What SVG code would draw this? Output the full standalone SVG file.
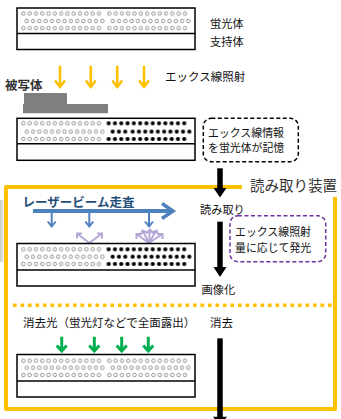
<svg xmlns="http://www.w3.org/2000/svg" width="341" height="419" viewBox="0 0 341 419">
  <defs>
    <style>
      .lbl { font-family: "Noto Sans CJK JP", "Noto Sans", sans-serif; font-size: 11.2px; fill: #111; }
      .box { font-size: 10.9px; }
      .plate { fill: #fff; stroke: #000; stroke-width: 1.5; }
      .div { stroke: #000; stroke-width: 1.5; }
      .ya { stroke: #FFC000; stroke-width: 2.5; fill: none; stroke-linecap: butt; }
      .ga { stroke: #00B050; stroke-width: 3; fill: none; }
      .ba { stroke: #4F81BD; stroke-width: 2; fill: none; }
      .pa { stroke: #B4A7D6; stroke-width: 2; fill: none; }
      .blk { stroke: #000; stroke-width: 5.5; }
    </style>
    <pattern id="po" patternUnits="userSpaceOnUse" width="6.3" height="6">
      <circle cx="3.15" cy="3" r="1.75" fill="#fff" stroke="#7f7f7f" stroke-width="0.8"/>
    </pattern>
    <pattern id="pf" patternUnits="userSpaceOnUse" width="6.3" height="6">
      <circle cx="3.15" cy="3" r="2.1" fill="#000"/>
    </pattern>
    <linearGradient id="shadow" x1="0" x2="1" y1="0" y2="0">
      <stop offset="0" stop-color="#a0a0a0" stop-opacity="0.6"/>
      <stop offset="1" stop-color="#c0c0c0" stop-opacity="0"/>
    </linearGradient>
    <rect id="rowO" x="0" y="0" width="81.9" height="6" fill="url(#po)"/>
    <rect id="rowF" x="0" y="0" width="81.9" height="6" fill="url(#pf)"/>
    <rect id="rowF3" x="0" y="0" width="18.9" height="6" fill="url(#pf)"/>
    <rect id="rowF10" x="0" y="0" width="63" height="6" fill="url(#pf)"/>
  </defs>

  <rect x="0" y="200" width="6" height="62" fill="url(#shadow)"/>

  <!-- Plate 1: fresh plate -->
  <g id="plate1">
    <rect class="plate" x="17" y="8" width="178" height="41.5"/>
    <line class="div" x1="17" y1="33.5" x2="195" y2="33.5"/>
    <use href="#rowO" x="20.2" y="10.5"/>
    <use href="#rowO" x="106.2" y="10.5"/>
    <use href="#rowO" x="23.6" y="18"/>
    <use href="#rowO" x="109.6" y="18"/>
    <use href="#rowO" x="20.2" y="25.2"/>
    <use href="#rowO" x="106.2" y="25.2"/>
  </g>
  <g id="label-phosphor"><text class="lbl" x="210" y="27.5">蛍光体</text></g>
  <g id="label-support"><text class="lbl" x="210" y="46">支持体</text></g>

  <!-- X-ray irradiation -->
  <g id="xray-arrows">
    <path class="ya" d="M60,65.7 V86.5 M55,80.5 L60,87 L65,80.5"/>
    <path class="ya" d="M90.7,65.7 V86.5 M85.7,80.5 L90.7,87 L95.7,80.5"/>
    <path class="ya" d="M117.3,65.7 V86.5 M112.3,80.5 L117.3,87 L122.3,80.5"/>
    <path class="ya" d="M144,65.7 V86.5 M139,80.5 L144,87 L149,80.5"/>
  </g>
  <g id="label-xray"><text class="lbl" x="165" y="81" style="font-size:11.5px">エックス線照射</text></g>

  <!-- Subject -->
  <g id="subject">
    <text class="lbl" x="5" y="89.5" style="font-size:12.5px;font-weight:bold;fill:#333">被写体</text>
    <path d="M24,93 H67 V104 H108 V113.3 H23 V104 H24 Z" fill="#7f7f7f"/>
  </g>

  <!-- Plate 2: exposed plate -->
  <g id="plate2">
    <rect class="plate" x="17" y="118.3" width="178" height="42"/>
    <line class="div" x1="17" y1="143.8" x2="195" y2="143.8"/>
    <use href="#rowO" x="20.2" y="120.3"/>
    <use href="#rowF" x="105.5" y="120.3"/>
    <use href="#rowO" x="23.6" y="128.6"/>
    <use href="#rowF3" x="109.5" y="128.6"/>
    <use href="#rowF10" x="129.5" y="128.6"/>
    <use href="#rowO" x="20.2" y="136"/>
    <use href="#rowF" x="105.5" y="136"/>
  </g>

  <g id="memo-box">
    <rect x="203.3" y="118.3" width="95" height="43.4" rx="8" fill="none" stroke="#000" stroke-width="1.5" stroke-dasharray="4 2.5"/>
    <text class="lbl box" x="208" y="136.6">エックス線情報</text>
    <text class="lbl box" x="208" y="152.4">を蛍光体が記憶</text>
  </g>

  <!-- Reader frame -->
  <g id="reader-frame">
    <path d="M242,187 H6 V409 H335 V197" fill="none" stroke="#FFC000" stroke-width="4" stroke-linejoin="round"/>
    <line x1="13" y1="305.3" x2="332" y2="305.3" stroke="#FFC000" stroke-width="3.5" stroke-dasharray="3.6 3.9"/>
    <text class="lbl" x="250" y="191.2" style="font-size:14.5px;fill:#333">読み取り装置</text>
  </g>

  <!-- Laser scan -->
  <g id="laser">
    <text class="lbl" x="22.5" y="207.3" style="font-size:12.5px;font-weight:bold;fill:#1F4E79">レーザービーム走査</text>
    <path d="M33,211 H172" stroke="#4F81BD" stroke-width="4" fill="none"/>
    <path d="M162,203.5 L173,211 L162,218.5" stroke="#4F81BD" stroke-width="3.5" fill="none"/>
    <path class="ba" d="M51.7,211 V226 M47.7,221.5 L51.7,226.5 L55.7,221.5"/>
    <path class="ba" d="M89.3,211 V226 M85.3,221.5 L89.3,226.5 L93.3,221.5"/>
    <path class="ba" d="M149,211 V226 M145,221.5 L149,226.5 L153,221.5"/>
  </g>

  <g id="emission">
    <path class="pa" d="M89.3,243 L77,233.5 M77,238.5 L77,233.5 L82,233.5"/>
    <path class="pa" d="M89.3,243 L102,233.5 M97,233.5 L102,233.5 L102,238.5"/>
    <path class="pa" d="M149,243 L136.5,234 M136.5,239 L136.5,234 L141.5,234"/>
    <path class="pa" d="M149,243 L142.5,230.5 M140.5,235 L142.5,230.5 L147,232.5"/>
    <path class="pa" d="M149,243 L150,229.5 M146.5,233.5 L150,229.5 L153.5,233.5"/>
    <path class="pa" d="M149,243 L156.5,230.5 M152,232.5 L156.5,230.5 L158.5,235"/>
    <path class="pa" d="M149,243 L162.5,234 M157.5,234 L162.5,234 L162.5,239"/>
  </g>

  <!-- Plate 3: reading -->
  <g id="plate3">
    <rect class="plate" x="17" y="243.5" width="178" height="42.5"/>
    <line class="div" x1="17" y1="270" x2="195" y2="270"/>
    <use href="#rowO" x="20.2" y="246.3"/>
    <use href="#rowF" x="105.5" y="246.3"/>
    <use href="#rowO" x="23.6" y="253.7"/>
    <use href="#rowF3" x="109.5" y="253.7"/>
    <use href="#rowF10" x="129.5" y="253.7"/>
    <use href="#rowO" x="20.2" y="261"/>
    <use href="#rowF" x="105.5" y="261"/>
  </g>

  <g id="label-read"><text class="lbl" x="200" y="213.5">読み取り</text></g>
  <g id="emit-box">
    <rect x="230" y="215.7" width="95.7" height="46" rx="8" fill="none" stroke="#7030A0" stroke-width="1.5" stroke-dasharray="4 2.5"/>
    <text class="lbl box" x="235" y="236.2">エックス線照射</text>
    <text class="lbl box" x="235" y="252">量に応じて発光</text>
  </g>
  <g id="label-image"><text class="lbl" x="201.5" y="294.3">画像化</text></g>

  <!-- Erase -->
  <g id="label-eraselight"><text class="lbl" x="23" y="326.5" style="font-size:11.5px">消去光（蛍光灯などで全面露出）</text></g>
  <g id="label-erase"><text class="lbl" x="210" y="326.5" style="font-size:11.5px">消去</text></g>
  <g id="erase-arrows">
    <path class="ga" d="M61.7,336.7 V350.5 M56.7,345.5 L61.7,351 L66.7,345.5"/>
    <path class="ga" d="M94.3,336.7 V350.5 M89.3,345.5 L94.3,351 L99.3,345.5"/>
    <path class="ga" d="M121.7,336.7 V350.5 M116.7,345.5 L121.7,351 L126.7,345.5"/>
    <path class="ga" d="M148.3,336.7 V350.5 M143.3,345.5 L148.3,351 L153.3,345.5"/>
  </g>

  <!-- Plate 4: erased -->
  <g id="plate4">
    <rect class="plate" x="17" y="354.5" width="178" height="42.5"/>
    <line class="div" x1="17" y1="381" x2="195" y2="381"/>
    <use href="#rowO" x="20.2" y="357.7"/>
    <use href="#rowO" x="106.2" y="357.7"/>
    <use href="#rowO" x="23.6" y="364.7"/>
    <use href="#rowO" x="109.6" y="364.7"/>
    <use href="#rowO" x="20.2" y="372"/>
    <use href="#rowO" x="106.2" y="372"/>
  </g>

  <!-- Process flow connectors -->
  <g id="connectors">
    <line class="blk" x1="220" y1="168.3" x2="220" y2="189"/>
    <polygon points="213.5,188 226.5,188 220,197.5" fill="#000"/>
    <line class="blk" x1="220" y1="221.7" x2="220" y2="268"/>
    <polygon points="213.5,267 226.5,267 220,277" fill="#000"/>
    <line class="blk" x1="220" y1="338.3" x2="220" y2="419"/>
    <polygon points="213,416.7 227,416.7 220,426" fill="#000"/>
  </g>
</svg>
